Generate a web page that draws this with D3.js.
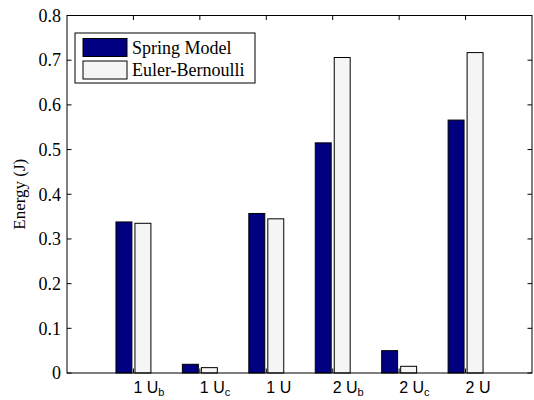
<!DOCTYPE html>
<html lang="en">
<head>
  <meta charset="UTF-8">
  <title>Energy – Spring Model vs Euler-Bernoulli</title>
  <script src="https://cdnjs.cloudflare.com/ajax/libs/d3/7.8.5/d3.min.js"></script>
  <style>
    body { margin: 0; padding: 0; background: #fff; }
    svg { display: block; }
  </style>
</head>
<body>
<svg id="chart" width="534" height="400"></svg>
<script>
  // Categories: number + letter with optional subscript
  const catNums = ["1", "1", "1", "2", "2", "2"];
  const catSubs = ["b", "c", "", "b", "c", ""];
  const seriesNames = ["Spring Model", "Euler-Bernoulli"];
  const springModel = [0.338, 0.0195, 0.357, 0.515, 0.050, 0.566];
  const eulerBernoulli = [0.335, 0.012, 0.345, 0.706, 0.015, 0.717];
  const yTicks = [0, 0.1, 0.2, 0.3, 0.4, 0.5, 0.6, 0.7, 0.8];
  const colors = ["#000080", "#f5f5f5"];

  const SERIF = "'Liberation Serif', 'Times New Roman', serif";
  const SANS = "'Liberation Sans', Arial, sans-serif";

  const svg = d3.select("#chart");
  const margin = { left: 67, right: 2, top: 15.5, bottom: 27 };
  const width = +svg.attr("width"), height = +svg.attr("height");

  const x = d3.scaleLinear().domain([0, 7]).range([margin.left, width - margin.right]);
  const y = d3.scaleLinear().domain([0, 0.8]).range([height - margin.bottom, margin.top]);
  const step = x(1) - x(0);
  const barW = 0.24 * step;
  const offsets = [-0.143 * step, 0.143 * step];

  // bars
  const series = [springModel, eulerBernoulli];
  series.forEach((vals, s) => {
    svg.append("g").selectAll("rect")
      .data(vals)
      .join("rect")
      .attr("x", (d, i) => x(i + 1) + offsets[s] - barW / 2)
      .attr("y", d => y(d))
      .attr("width", barW)
      .attr("height", d => y(0) - y(d))
      .attr("fill", colors[s])
      .attr("stroke", "#000")
      .attr("stroke-width", 1);
  });

  // axes box
  const x0 = x(0), x1 = x(7), yb = y(0), yt = y(0.8);
  svg.append("rect")
    .attr("x", x0).attr("y", yt)
    .attr("width", x1 - x0).attr("height", yb - yt)
    .attr("fill", "none").attr("stroke", "#000").attr("stroke-width", 1);

  const tickLen = 4.5;
  // y ticks both sides
  yTicks.forEach(t => {
    svg.append("line").attr("x1", x0).attr("x2", x0 + tickLen)
      .attr("y1", y(t)).attr("y2", y(t)).attr("stroke", "#000");
    svg.append("line").attr("x1", x1).attr("x2", x1 - tickLen)
      .attr("y1", y(t)).attr("y2", y(t)).attr("stroke", "#000");
    svg.append("text")
      .attr("font-family", SERIF)
      .attr("x", x0 - 6).attr("y", y(t))
      .attr("dy", "0.35em")
      .attr("text-anchor", "end")
      .attr("font-size", 18)
      .text(t === 0 ? "0" : d3.format(".1f")(t));
  });

  // x ticks top and bottom
  d3.range(1, 7).forEach(i => {
    svg.append("line").attr("x1", x(i)).attr("x2", x(i))
      .attr("y1", yt).attr("y2", yt + tickLen).attr("stroke", "#000");
    svg.append("line").attr("x1", x(i)).attr("x2", x(i))
      .attr("y1", yb).attr("y2", yb - tickLen).attr("stroke", "#000");
  });

  // x tick labels (left aligned at tick like the original)
  catNums.forEach((n, i) => {
    const t = svg.append("text")
      .attr("font-family", SANS)
      .attr("x", x(i + 1)).attr("y", 393)
      .attr("font-size", 16)
      .attr("fill", "#000");
    t.append("tspan").text(n + " U");
    if (catSubs[i]) {
      t.append("tspan").attr("dy", 3).attr("font-size", 11).text(catSubs[i]);
    }
  });

  // y label
  svg.append("text")
    .attr("font-family", SERIF)
    .attr("transform", `translate(25, ${(yt + yb) / 2}) rotate(-90)`)
    .attr("text-anchor", "middle")
    .attr("font-size", 17)
    .text("Energy (J)");

  // legend
  const lg = svg.append("g").attr("transform", "translate(75,33)");
  lg.append("rect").attr("width", 180).attr("height", 50)
    .attr("fill", "#fff").attr("stroke", "#000");
  seriesNames.forEach((name, i) => {
    lg.append("rect")
      .attr("x", 8).attr("y", 5.5 + i * 22.5)
      .attr("width", 44).attr("height", 18)
      .attr("fill", colors[i]).attr("stroke", "#000");
    lg.append("text")
      .attr("font-family", SERIF)
      .attr("x", 57).attr("y", 14.5 + i * 22.5)
      .attr("dy", "0.35em")
      .attr("font-size", 18)
      .text(name);
  });
</script>
</body>
</html>
